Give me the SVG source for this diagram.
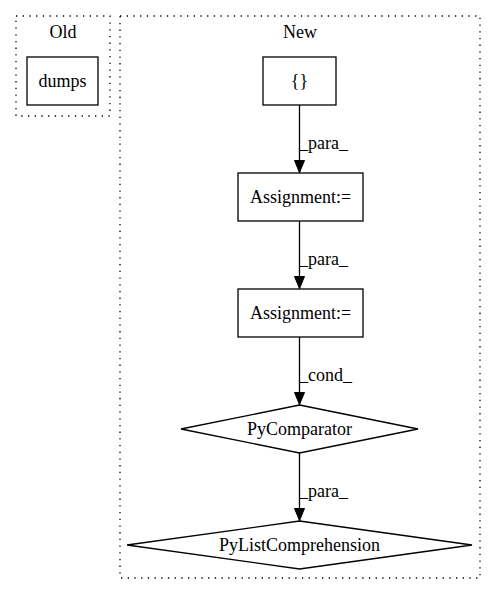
<svg xmlns="http://www.w3.org/2000/svg" width="496" height="596" viewBox="0 0 496 596">
<defs>
<style>
.c{text-anchor:middle}
.cl{fill:none;stroke:#000;stroke-width:1.3;stroke-dasharray:1.3,5.4}
.n{fill:#fff;stroke:#000;stroke-width:1.3}
.e{fill:none;stroke:#000;stroke-width:1.3}
</style>
<marker id="ah" viewBox="0 0 13 11" refX="13" refY="5.5" markerWidth="13" markerHeight="11" markerUnits="userSpaceOnUse" orient="auto">
<path d="M0.5,0.5 L12.5,5.5 L0.5,10.5 Z" fill="#000" stroke="#000"/>
</marker>
</defs>
<rect width="496" height="596" fill="#fff"/>
<g font-family="'Liberation Serif', 'Times New Roman', serif" font-size="18" fill="#000">
<g id="cluster_old">
<rect class="cl" x="16" y="16" width="94" height="100"/>
<text class="c" x="63" y="38">Old</text>
</g>
<g id="cluster_new">
<rect class="cl" x="120" y="16" width="360" height="562"/>
<text class="c" x="300" y="38">New</text>
</g>
<g id="dumps">
<rect class="n" x="27" y="57" width="71" height="48"/>
<text class="c" x="62.5" y="87">dumps</text>
</g>
<g id="braces">
<rect class="n" x="263" y="57" width="73" height="48"/>
<text class="c" x="299.5" y="87">{}</text>
</g>
<g id="assign1">
<rect class="n" x="238" y="173" width="125" height="48"/>
<text class="c" x="300.5" y="203">Assignment:=</text>
</g>
<g id="assign2">
<rect class="n" x="238" y="289" width="125" height="48"/>
<text class="c" x="300.5" y="319">Assignment:=</text>
</g>
<g id="pycomparator">
<polygon class="n" points="299.5,405 418,429 299.5,453 181,429"/>
<text class="c" x="299.5" y="435">PyComparator</text>
</g>
<g id="pylistcomp">
<polygon class="n" points="299.5,521 472,545 299.5,569 127,545"/>
<text class="c" x="299.5" y="551">PyListComprehension</text>
</g>
<g id="edges">
<line class="e" x1="299.5" y1="105" x2="299.5" y2="173" marker-end="url(#ah)"/>
<text x="299" y="149">_para_</text>
<line class="e" x1="299.5" y1="221" x2="299.5" y2="289" marker-end="url(#ah)"/>
<text x="299" y="265">_para_</text>
<line class="e" x1="299.5" y1="337" x2="299.5" y2="405" marker-end="url(#ah)"/>
<text x="299" y="381">_cond_</text>
<line class="e" x1="299.5" y1="453" x2="299.5" y2="521" marker-end="url(#ah)"/>
<text x="299" y="497">_para_</text>
</g>
</g>
</svg>
